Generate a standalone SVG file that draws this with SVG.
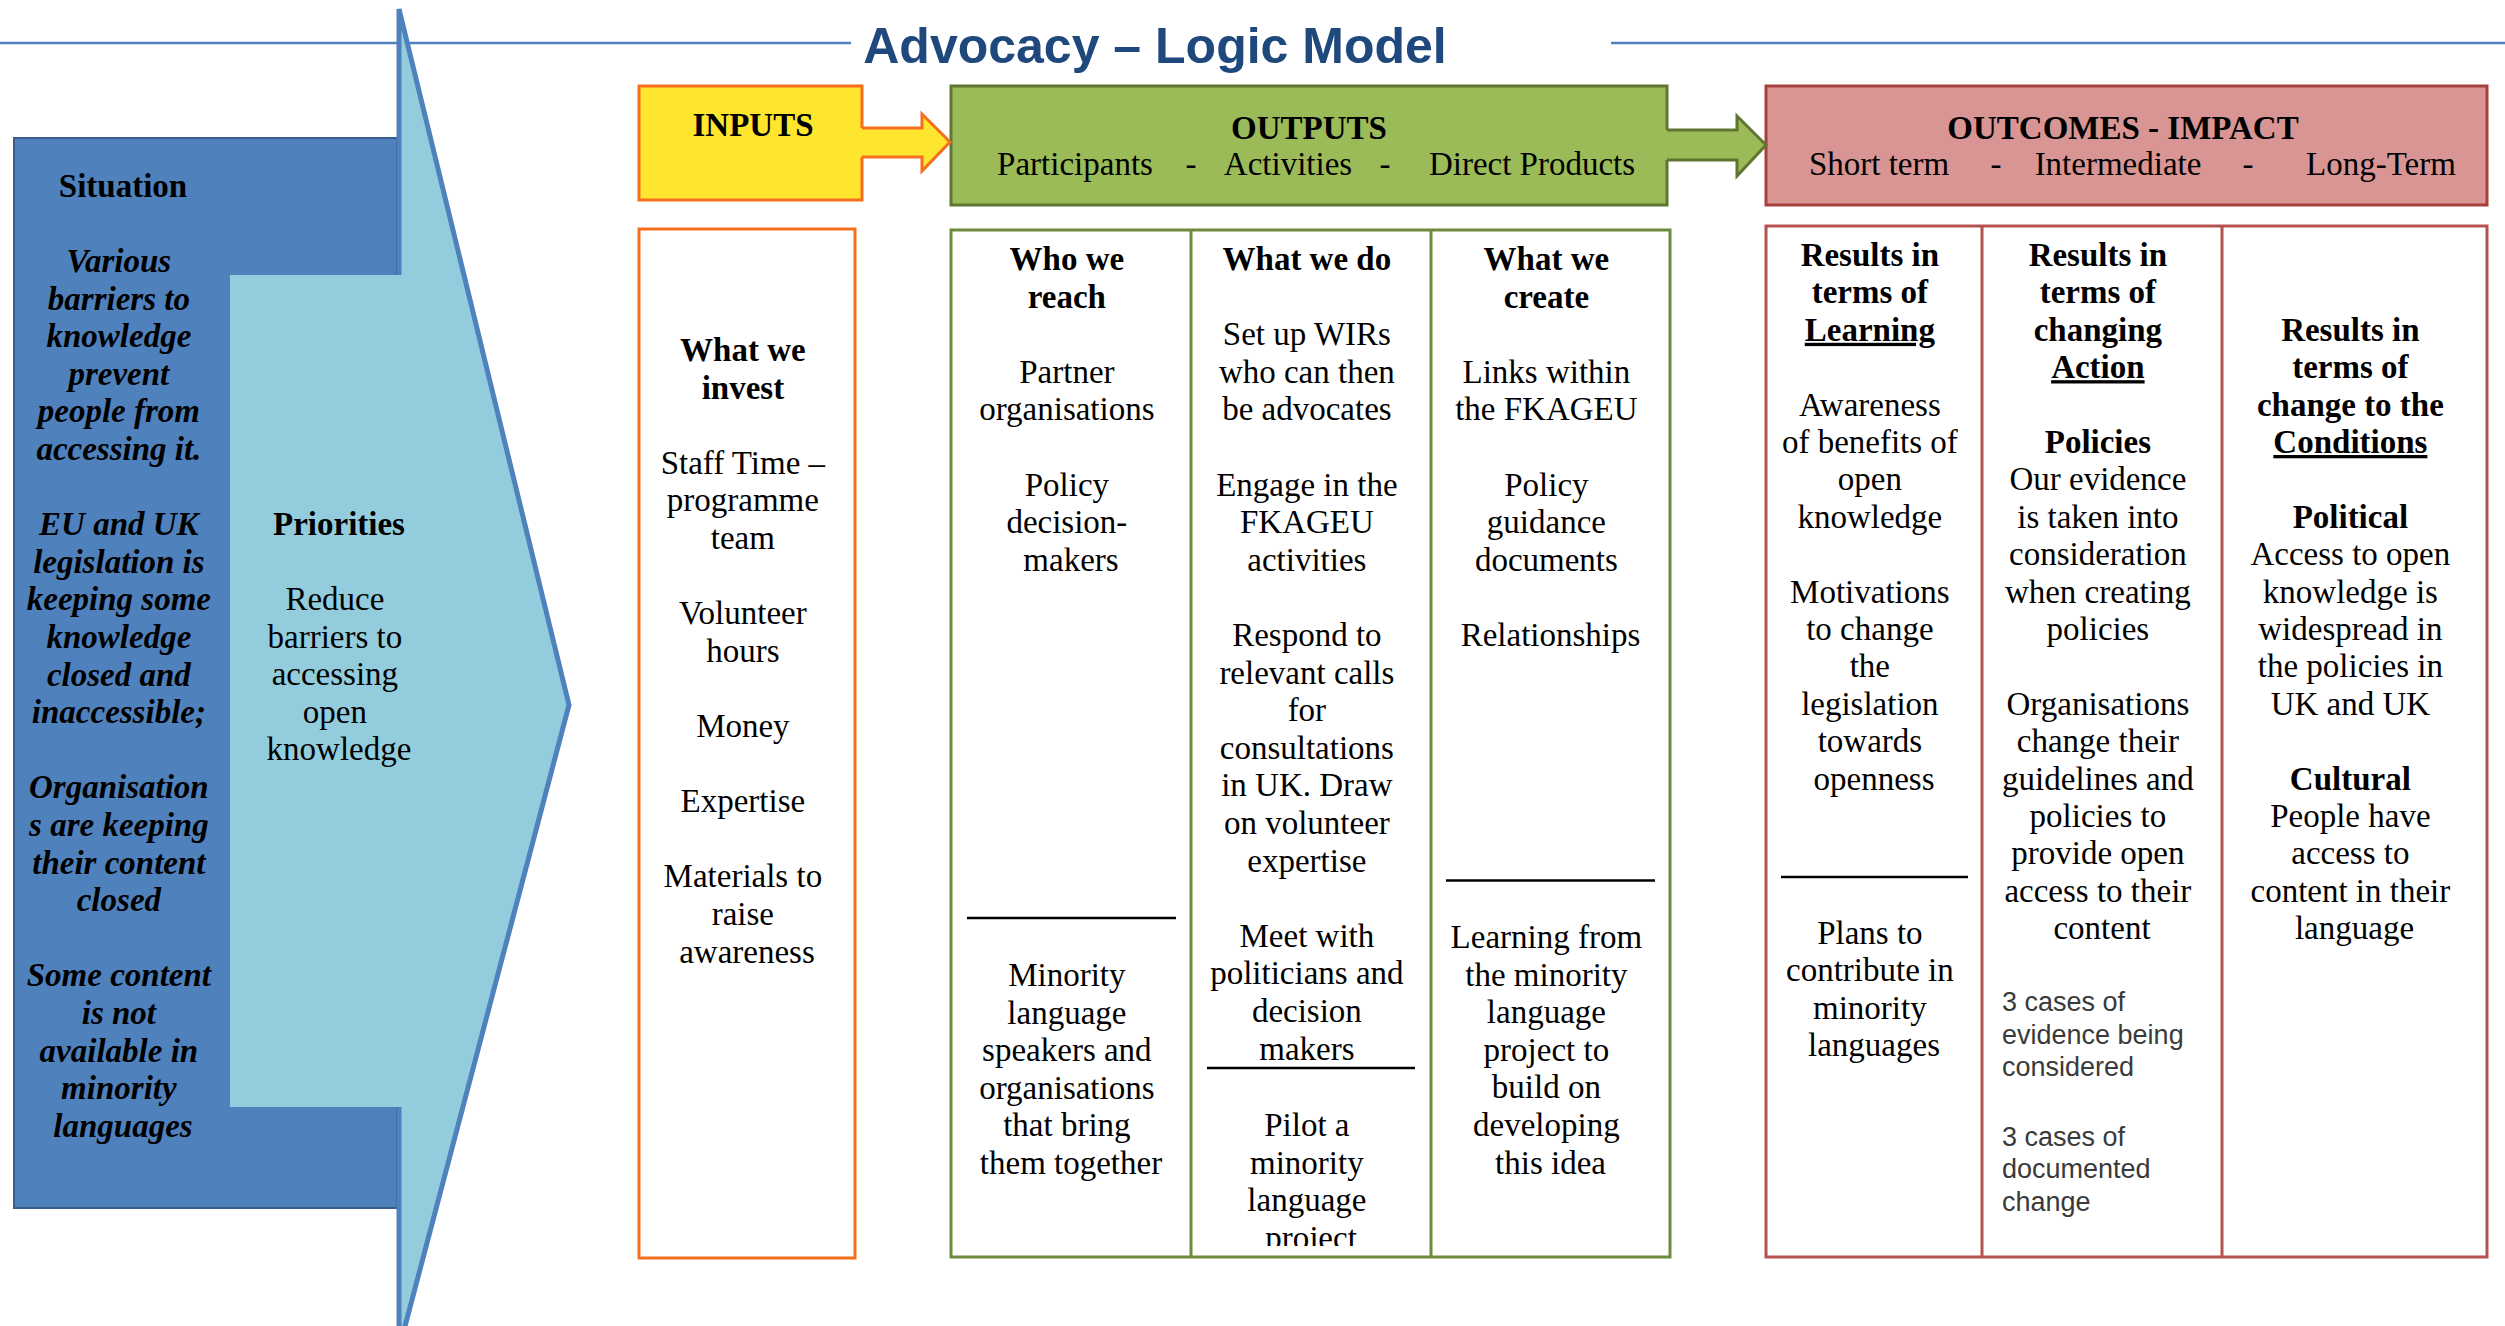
<svg xmlns="http://www.w3.org/2000/svg" width="2505" height="1326" viewBox="0 0 2505 1326">
<style>
.t{font-family:'Liberation Serif','Times New Roman',serif;font-size:33px;fill:#000;text-anchor:middle}
.b{font-weight:bold}
.bi{font-weight:bold;font-style:italic}
.ar{font-family:'Liberation Sans',Arial,sans-serif;font-size:27px;fill:#3a3a3a;text-anchor:start}
.title{font-family:'Liberation Sans',Arial,sans-serif;font-size:50px;font-weight:bold;fill:#1F497D;text-anchor:middle}
.sep{stroke:#000;stroke-width:2.5}
.rule{stroke:#4F81BD;stroke-width:2.5}
.inp{fill:#FFE62E;stroke:#F36F1E;stroke-width:3}
.out{fill:#9BBB59;stroke:#5F7530;stroke-width:3}
.oc{fill:#D99594;stroke:#A5403D;stroke-width:3}
.colI{fill:#fff;stroke:#F36F1E;stroke-width:3}
.colO{fill:#fff;stroke:#6E8B3D;stroke-width:3}
.colC{fill:#fff;stroke:#B5524F;stroke-width:3}
</style>
<defs>
<clipPath id="clipCol2"><rect x="1191" y="229" width="240" height="1017"/></clipPath>
</defs>
<rect x="0" y="0" width="2505" height="1326" fill="#fff"/>

<g id="title">
<line class="rule" x1="0" y1="43" x2="851" y2="43"/>
<line class="rule" x1="1611" y1="43" x2="2505" y2="43"/>
<text class="title" x="1155" y="63">Advocacy – Logic Model</text>
</g>

<g id="situation">
<rect x="14" y="138" width="383" height="1070" fill="#4F81BD" stroke="#385D8A" stroke-width="2"/>
</g>
<g id="priorities-arrow">
<polygon points="399,9 569,705 399,1349" fill="#93CDDD" stroke="#4F81BD" stroke-width="5" stroke-linejoin="miter"/>
<rect x="230" y="275" width="172" height="832" fill="#93CDDD"/>
</g>
<g id="situation-text">
<text class="t b" x="123" y="197">Situation</text>
<text class="t bi">
<tspan x="123" y="272">Various</tspan>
<tspan x="123" y="309.6">barriers to</tspan>
<tspan x="123" y="347.2">knowledge</tspan>
<tspan x="123" y="384.8">prevent</tspan>
<tspan x="123" y="422.4">people from</tspan>
<tspan x="123" y="460">accessing it.</tspan>
<tspan x="123" y="535.2">EU and UK</tspan>
<tspan x="123" y="572.8">legislation is</tspan>
<tspan x="123" y="610.4">keeping some</tspan>
<tspan x="123" y="648">knowledge</tspan>
<tspan x="123" y="685.6">closed and</tspan>
<tspan x="123" y="723.2">inaccessible;</tspan>
<tspan x="123" y="798.4">Organisation</tspan>
<tspan x="123" y="836">s are keeping</tspan>
<tspan x="123" y="873.6">their content</tspan>
<tspan x="123" y="911.2">closed</tspan>
<tspan x="123" y="986.4">Some content</tspan>
<tspan x="123" y="1024">is not</tspan>
<tspan x="123" y="1061.6">available in</tspan>
<tspan x="123" y="1099.2">minority</tspan>
<tspan x="123" y="1136.8">languages</tspan>
</text>
</g>
<g id="priorities-text">
<text class="t b" x="339" y="535">Priorities</text>
<text class="t">
<tspan x="339" y="610">Reduce</tspan>
<tspan x="339" y="647.6">barriers to</tspan>
<tspan x="339" y="685.2">accessing</tspan>
<tspan x="339" y="722.8">open</tspan>
<tspan x="339" y="760.4">knowledge</tspan>
</text>
</g>

<g id="inputs-header">
<rect class="inp" x="639" y="86" width="223" height="114"/>
<text class="t b" x="753" y="136">INPUTS</text>
</g>
<g id="outputs-header">
<rect class="out" x="951" y="86" width="716" height="119"/>
<text class="t b" x="1309" y="139">OUTPUTS</text>
<text class="t" x="1075" y="175">Participants</text>
<text class="t" x="1191" y="175">-</text>
<text class="t" x="1288" y="175">Activities</text>
<text class="t" x="1385" y="175">-</text>
<text class="t" x="1532" y="175">Direct Products</text>
</g>
<g id="outcomes-header">
<rect class="oc" x="1766" y="86" width="721" height="119"/>
<text class="t b" x="2123" y="139">OUTCOMES - IMPACT</text>
<text class="t" x="1879" y="175">Short term</text>
<text class="t" x="1996" y="175">-</text>
<text class="t" x="2118" y="175">Intermediate</text>
<text class="t" x="2248" y="175">-</text>
<text class="t" x="2381" y="175">Long-Term</text>
</g>

<g id="connectors">
<polygon points="860,128 922,128 922,114 950,142 922,171 922,157 860,157" fill="#FFE62E"/>
<polyline points="862,128 922,128 922,114 950,142 922,171 922,157 862,157" fill="none" stroke="#F36F1E" stroke-width="3"/>
<polygon points="1665,130 1737,130 1737,116 1766,145 1737,176 1737,160 1665,160" fill="#9BBB59"/>
<polyline points="1667,130 1737,130 1737,116 1766,145 1737,176 1737,160 1667,160" fill="none" stroke="#5F7530" stroke-width="3"/>
</g>

<g id="inputs-column">
<rect class="colI" x="639" y="229" width="216" height="1029"/>
<text class="t">
<tspan class="b" x="747" y="361">What we</tspan>
<tspan class="b" x="747" y="398.6">invest</tspan>
<tspan x="747" y="473.8">Staff Time –</tspan>
<tspan x="747" y="511.4">programme</tspan>
<tspan x="747" y="549">team</tspan>
<tspan x="747" y="624.2">Volunteer</tspan>
<tspan x="747" y="661.8">hours</tspan>
<tspan x="747" y="737">Money</tspan>
<tspan x="747" y="812.2">Expertise</tspan>
<tspan x="747" y="887.4">Materials to</tspan>
<tspan x="747" y="925">raise</tspan>
<tspan x="747" y="962.6">awareness</tspan>
</text>
</g>

<g id="outputs-columns">
<rect class="colO" x="951" y="230" width="719" height="1027"/>
<line class="colO" x1="1191" y1="230" x2="1191" y2="1257"/>
<line class="colO" x1="1431" y1="230" x2="1431" y2="1257"/>
</g>
<g id="who-we-reach">
<text class="t">
<tspan class="b" x="1071" y="270">Who we</tspan>
<tspan class="b" x="1071" y="307.6">reach</tspan>
<tspan x="1071" y="382.8">Partner</tspan>
<tspan x="1071" y="420.4">organisations</tspan>
<tspan x="1071" y="495.6">Policy</tspan>
<tspan x="1071" y="533.2">decision-</tspan>
<tspan x="1071" y="570.8">makers</tspan>
</text>
<line class="sep" x1="967" y1="918" x2="1176" y2="918"/>
<text class="t">
<tspan x="1071" y="986">Minority</tspan>
<tspan x="1071" y="1023.6">language</tspan>
<tspan x="1071" y="1061.2">speakers and</tspan>
<tspan x="1071" y="1098.8">organisations</tspan>
<tspan x="1071" y="1136.4">that bring</tspan>
<tspan x="1071" y="1174">them together</tspan>
</text>
</g>
<g id="what-we-do">
<text class="t" clip-path="url(#clipCol2)">
<tspan class="b" x="1311" y="270">What we do</tspan>
<tspan x="1311" y="345.2">Set up WIRs</tspan>
<tspan x="1311" y="382.8">who can then</tspan>
<tspan x="1311" y="420.4">be advocates</tspan>
<tspan x="1311" y="495.6">Engage in the</tspan>
<tspan x="1311" y="533.2">FKAGEU</tspan>
<tspan x="1311" y="570.8">activities</tspan>
<tspan x="1311" y="646">Respond to</tspan>
<tspan x="1311" y="683.6">relevant calls</tspan>
<tspan x="1311" y="721.2">for</tspan>
<tspan x="1311" y="758.8">consultations</tspan>
<tspan x="1311" y="796.4">in UK. Draw</tspan>
<tspan x="1311" y="834">on volunteer</tspan>
<tspan x="1311" y="871.6">expertise</tspan>
<tspan x="1311" y="946.8">Meet with</tspan>
<tspan x="1311" y="984.4">politicians and</tspan>
<tspan x="1311" y="1022">decision</tspan>
<tspan x="1311" y="1059.6">makers</tspan>
<tspan x="1311" y="1136">Pilot a</tspan>
<tspan x="1311" y="1173.6">minority</tspan>
<tspan x="1311" y="1211.2">language</tspan>
<tspan x="1311" y="1249">project</tspan>
</text>
<line class="sep" x1="1207" y1="1068" x2="1415" y2="1068"/>
</g>
<g id="what-we-create">
<text class="t">
<tspan class="b" x="1550.5" y="270">What we</tspan>
<tspan class="b" x="1550.5" y="307.6">create</tspan>
<tspan x="1550.5" y="382.8">Links within</tspan>
<tspan x="1550.5" y="420.4">the FKAGEU</tspan>
<tspan x="1550.5" y="495.6">Policy</tspan>
<tspan x="1550.5" y="533.2">guidance</tspan>
<tspan x="1550.5" y="570.8">documents</tspan>
<tspan x="1550.5" y="646">Relationships</tspan>
</text>
<line class="sep" x1="1446" y1="880.5" x2="1655" y2="880.5"/>
<text class="t">
<tspan x="1550.5" y="948">Learning from</tspan>
<tspan x="1550.5" y="985.6">the minority</tspan>
<tspan x="1550.5" y="1023.2">language</tspan>
<tspan x="1550.5" y="1060.8">project to</tspan>
<tspan x="1550.5" y="1098.4">build on</tspan>
<tspan x="1550.5" y="1136">developing</tspan>
<tspan x="1550.5" y="1173.6">this idea</tspan>
</text>
</g>

<g id="outcomes-columns">
<rect class="colC" x="1766" y="226" width="721" height="1031"/>
<line class="colC" x1="1982" y1="226" x2="1982" y2="1257"/>
<line class="colC" x1="2222" y1="226" x2="2222" y2="1257"/>
</g>
<g id="learning">
<text class="t">
<tspan class="b" x="1874" y="266">Results in</tspan>
<tspan class="b" x="1874" y="303.4">terms of</tspan>
<tspan class="b" x="1874" y="340.8" text-decoration="underline">Learning</tspan>
<tspan x="1874" y="415.6">Awareness</tspan>
<tspan x="1874" y="453">of benefits of</tspan>
<tspan x="1874" y="490.4">open</tspan>
<tspan x="1874" y="527.8">knowledge</tspan>
<tspan x="1874" y="602.6">Motivations</tspan>
<tspan x="1874" y="640">to change</tspan>
<tspan x="1874" y="677.4">the</tspan>
<tspan x="1874" y="714.8">legislation</tspan>
<tspan x="1874" y="752.2">towards</tspan>
<tspan x="1874" y="789.6">openness</tspan>
</text>
<line class="sep" x1="1781" y1="877" x2="1968" y2="877"/>
<text class="t">
<tspan x="1874" y="944">Plans to</tspan>
<tspan x="1874" y="981.4">contribute in</tspan>
<tspan x="1874" y="1018.8">minority</tspan>
<tspan x="1874" y="1056.2">languages</tspan>
</text>
</g>
<g id="action">
<text class="t">
<tspan class="b" x="2102" y="266">Results in</tspan>
<tspan class="b" x="2102" y="303.4">terms of</tspan>
<tspan class="b" x="2102" y="340.8">changing</tspan>
<tspan class="b" x="2102" y="378.2" text-decoration="underline">Action</tspan>
<tspan class="b" x="2102" y="453">Policies</tspan>
<tspan x="2102" y="490.4">Our evidence</tspan>
<tspan x="2102" y="527.8">is taken into</tspan>
<tspan x="2102" y="565.2">consideration</tspan>
<tspan x="2102" y="602.6">when creating</tspan>
<tspan x="2102" y="640">policies</tspan>
<tspan x="2102" y="714.8">Organisations</tspan>
<tspan x="2102" y="752.2">change their</tspan>
<tspan x="2102" y="789.6">guidelines and</tspan>
<tspan x="2102" y="827">policies to</tspan>
<tspan x="2102" y="864.4">provide open</tspan>
<tspan x="2102" y="901.8">access to their</tspan>
<tspan x="2102" y="939.2">content</tspan>
</text>
<text class="ar">
<tspan x="2002" y="1011">3 cases of</tspan>
<tspan x="2002" y="1043.7">evidence being</tspan>
<tspan x="2002" y="1076.4">considered</tspan>
<tspan x="2002" y="1145.5">3 cases of</tspan>
<tspan x="2002" y="1178">documented</tspan>
<tspan x="2002" y="1210.5">change</tspan>
</text>
</g>
<g id="conditions">
<text class="t">
<tspan class="b" x="2354.5" y="340.8">Results in</tspan>
<tspan class="b" x="2354.5" y="378.2">terms of</tspan>
<tspan class="b" x="2354.5" y="415.6">change to the</tspan>
<tspan class="b" x="2354.5" y="453" text-decoration="underline">Conditions</tspan>
<tspan class="b" x="2354.5" y="527.8">Political</tspan>
<tspan x="2354.5" y="565.2">Access to open</tspan>
<tspan x="2354.5" y="602.6">knowledge is</tspan>
<tspan x="2354.5" y="640">widespread in</tspan>
<tspan x="2354.5" y="677.4">the policies in</tspan>
<tspan x="2354.5" y="714.8">UK and UK</tspan>
<tspan class="b" x="2354.5" y="789.6">Cultural</tspan>
<tspan x="2354.5" y="827">People have</tspan>
<tspan x="2354.5" y="864.4">access to</tspan>
<tspan x="2354.5" y="901.8">content in their</tspan>
<tspan x="2354.5" y="939.2">language</tspan>
</text>
</g>
</svg>
